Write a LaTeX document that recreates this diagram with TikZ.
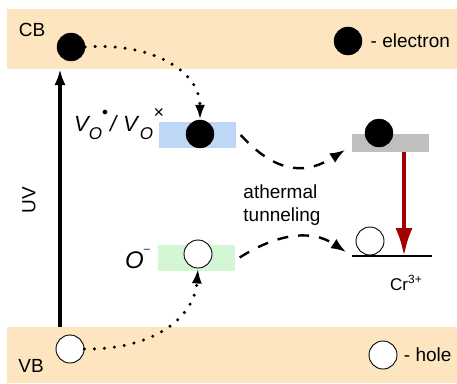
\documentclass[tikz,border=0pt]{standalone}
\usepackage{fontspec}
\setmainfont{Liberation Sans}
\usepackage{xcolor}
\usetikzlibrary{arrows.meta,positioning,calc}

\definecolor{bandc}{RGB}{253,229,192}
\definecolor{bluec}{RGB}{190,215,246}
\definecolor{greenc}{RGB}{212,246,212}
\definecolor{greyc}{RGB}{191,191,191}
\definecolor{redc}{RGB}{160,0,0}

\newcommand{\subO}{\raisebox{-8.5pt}{\fontsize{17}{17}\selectfont O}}
\newcommand{\chgdot}{\rlap{\raisebox{16pt}{\upshape\fontsize{12}{12}\selectfont$\bullet$}}}
\newcommand{\chgx}{\rlap{\hspace{0.5pt}\raisebox{12.5pt}{\upshape\fontsize{18}{18}\selectfont ×}}}

\begin{document}
\begin{tikzpicture}[x=1pt, y=-1pt,
  font=\fontsize{19}{23}\selectfont,
  band/.style={fill=bandc, draw=none},
  lvl/.style={draw=none, minimum width=77pt, minimum height=26pt, inner sep=0pt},
  elec/.style={circle, fill=black, draw=black, minimum size=28pt, inner sep=0pt},
  hole/.style={circle, fill=white, draw=black, line width=0.9pt, minimum size=28pt, inner sep=0pt},
  dotarr/.style={line width=3.4pt, line cap=round, dash pattern=on 0pt off 10pt,
                 -{Latex[length=15pt, width=10pt]}},
  dasharr/.style={line width=2.4pt, dash pattern=on 11pt off 10pt,
                  -{Latex[length=15pt, width=11pt]}},
  arr/.style={line width=3.2pt, -{Latex[length=16pt, width=11pt]}}
]
\useasboundingbox (0,0) rectangle (457,383);

% bands
\fill[band] (7,9) rectangle (457,69);
\fill[band] (7,327) rectangle (457,383);
\node (cb) at (32,30) {CB};
\node (vb) at (31,366) {VB};

% defect levels
\node[lvl, fill=bluec] (vlev) at (197,135) {};
\node[lvl, fill=greenc] (olev) at (196,257.5) {};
\node[lvl, fill=greyc, minimum height=18pt] (crlev) at (390,143) {};
\draw[line width=2.2pt] (352,256) coordinate (crl) -- (432,256) coordinate (crr);

% carriers
\node[elec] (cbE) at (71,47) {};
\node[hole] (vbH) at (70,349) {};
\node[elec] (vE) at (200,134) {};
\node[hole] (oH) at (198,254) {};
\node[elec] (crE) at (379,133) {};
\node[hole] (crH) at (370,241) {};

% labels
\node[anchor=base west, inner sep=0pt] (vlab) at (74,131)
  {\fontsize{22}{22}\selectfont\itshape V\subO\chgdot\hspace{8pt}/\hspace{7pt}V\hspace{2pt}\subO\chgx};
\node[anchor=base west, inner sep=0pt] (olab) at (125,268)
  {\fontsize{24}{24}\selectfont\itshape O\raisebox{15.5pt}{\upshape\fontsize{11}{11}\selectfont –}};
\node[anchor=base west, inner sep=0pt] (crlab) at (390,290) {\fontsize{17}{17}\selectfont Cr\textsuperscript{3+}};
\node[align=left] (tun) at (282,205) {athermal\\tunneling};
\node[rotate=90] (uv) at (29,200) {UV};

% legend
\node[elec] (legE) at (348,41) {};
\node[right=5pt of legE] (legEt) {- electron};
\node[hole] (legH) at (383,355) {};
\node[right=3pt of legH] (legHt) {- hole};

% transitions
\coordinate (uvb) at (60,327);
\coordinate (uvt) at (60,69);
\draw[arr] (uvb) -- (uvt);
\draw[dotarr] (cbE.east) .. controls (150,42) and (200,70) .. (vE.north);
\draw[dotarr] (vbH.east) .. controls (150,350) and (194,320) .. (oH.south);

\coordinate (upT) at (345,150);
\coordinate (loT) at (346,252);
\draw[dasharr] (vlev.east) ++(5,0) .. controls (280,178) and (310,172) .. (upT);
\draw[dasharr] (olev.east) ++(5,0) .. controls (275,235) and (310,228) .. (loT);

\draw[redc, line width=4pt, -{Latex[length=28pt, width=17pt]}] (crlev.south -| crr) ++(-28,0) -- ++(0,104);
\end{tikzpicture}
\end{document}
